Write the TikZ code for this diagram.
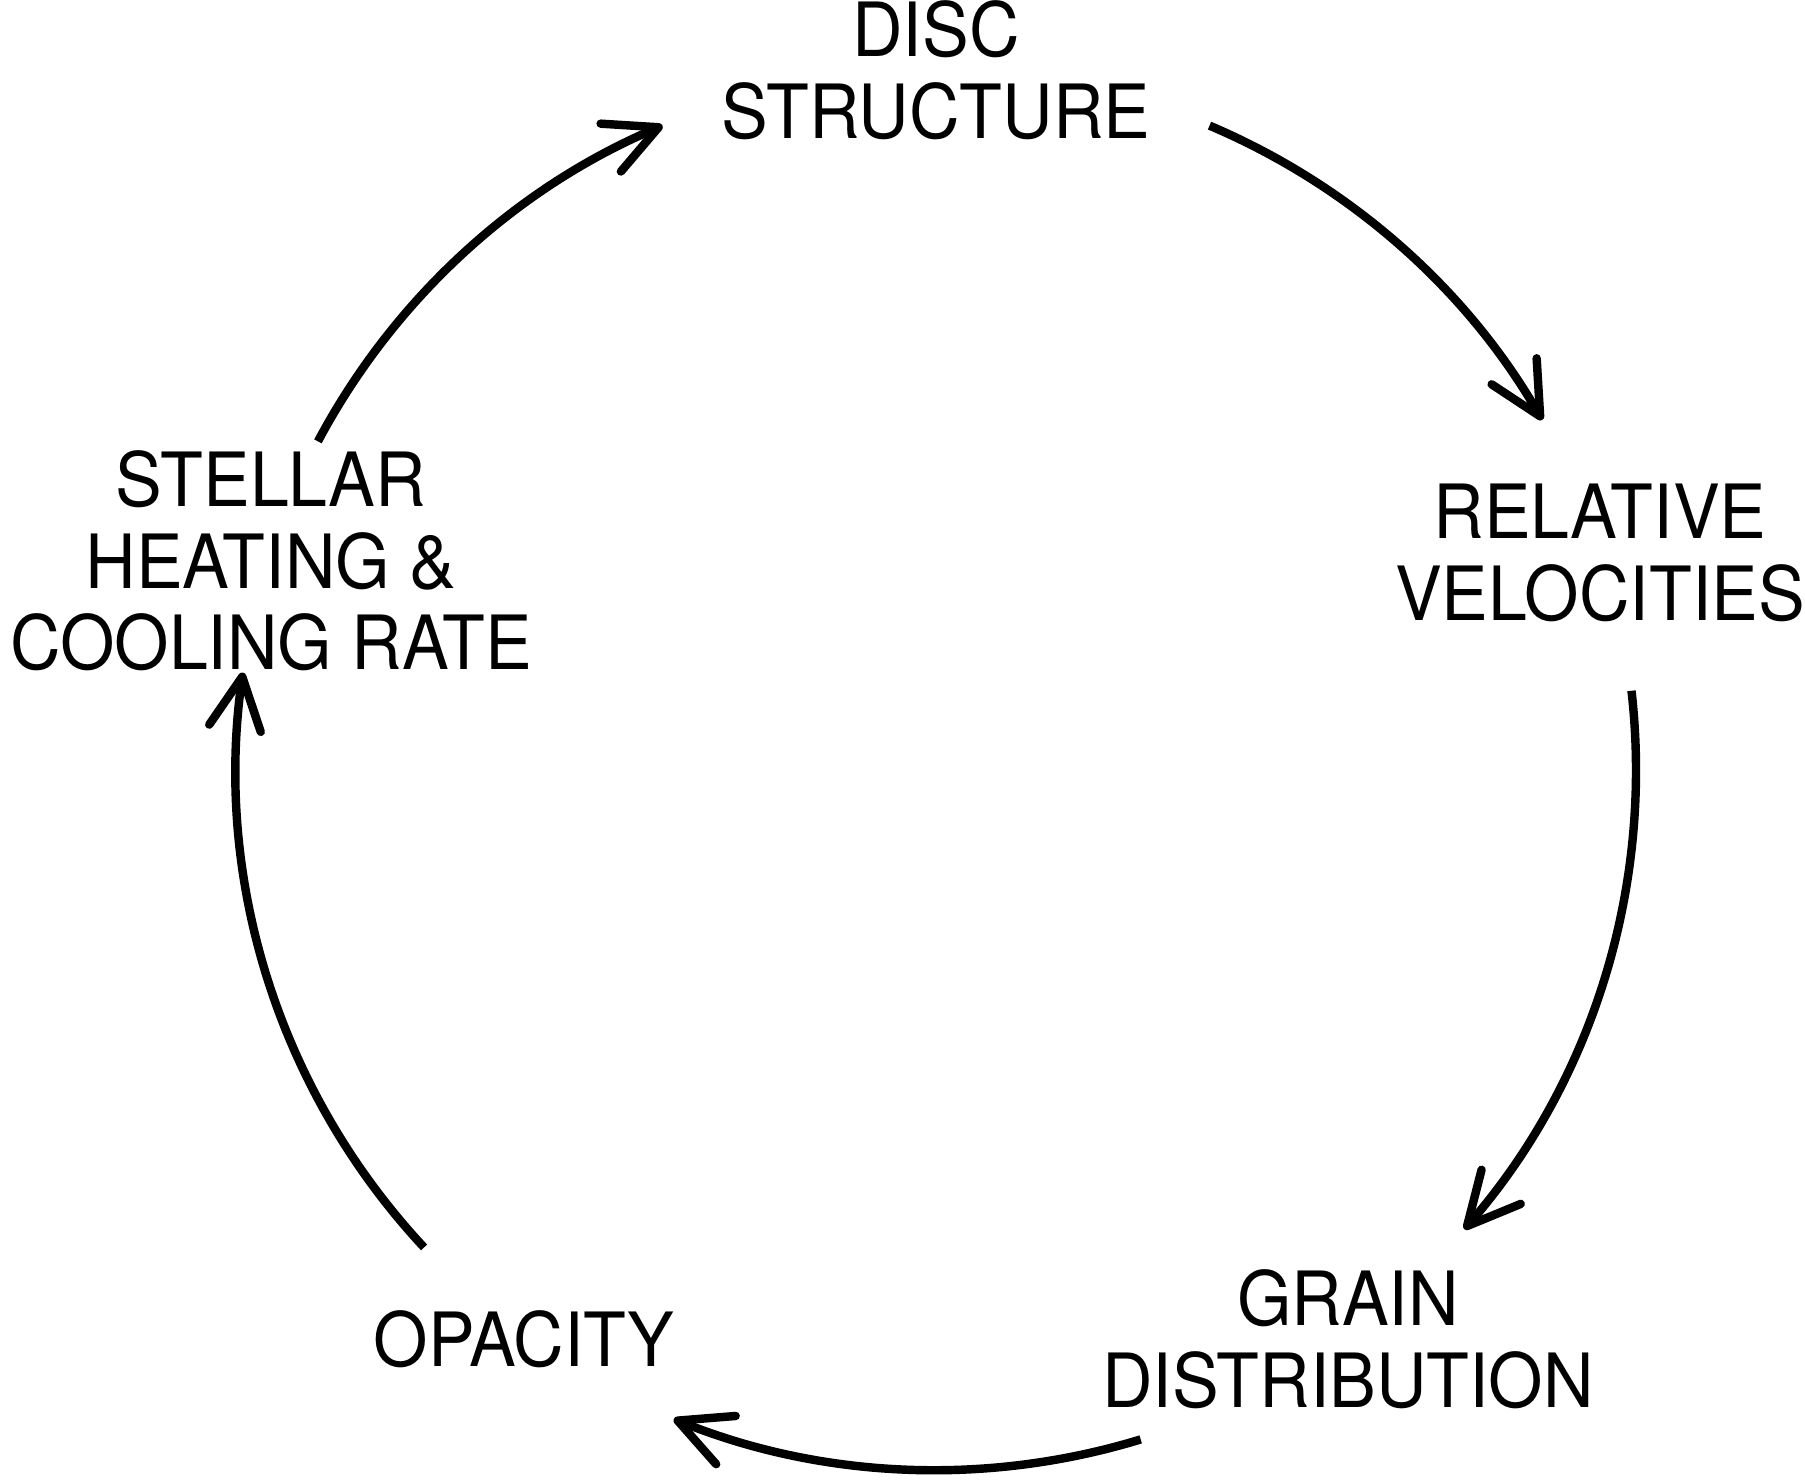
\documentclass[tikz,border=0pt]{standalone}
\usepackage{fontspec}
\setmainfont{TeX Gyre Heros}[FakeStretch=0.935]
\usepackage{tikz}
\usetikzlibrary{arrows.meta}
\usetikzlibrary{positioning}

\begin{document}
\begin{tikzpicture}[
        label/.style = {align=center, inner sep=0pt, font=\fontsize{21.3}{23.2}\selectfont},
        cyc/.style = {line width=2.4pt, -{Straight Barb[length=0.52cm, width=0.52cm, round]}}
    ]
        \useasboundingbox (0,0) rectangle (18.05,14.81);
        \coordinate (c) at (9.36,7.11);

        \node [label] (disc) at (9.36,14.11) {DISC\\STRUCTURE};
        \node [label] (rel) at (16.00,9.28) {RELATIVE\\VELOCITIES};
        \node [label] (grain) at (13.48,1.42) {GRAIN\\DISTRIBUTION};
        \node [label] (opac) at (5.24,1.42) {OPACITY};
        \node [label] (stel) at (2.71,9.2) {STELLAR\\HEATING \&\\COOLING RATE};

        % arcs round the circle
        \draw [cyc] ([shift={(67:7)}]c) arc [start angle=67, end angle=30, radius=7];
        \draw [cyc] ([shift={(6.5:7)}]c) arc [start angle=6.5, end angle=-41, radius=7];
        \draw [cyc] ([shift={(-73:7)}]c) arc [start angle=-73, end angle=-112, radius=7];
        \draw [cyc] ([shift={(223:7)}]c) arc [start angle=223, end angle=172, radius=7];
        \draw [cyc] ([shift={(152:7)}]c) arc [start angle=152, end angle=113, radius=7];
\end{tikzpicture}
\end{document}
